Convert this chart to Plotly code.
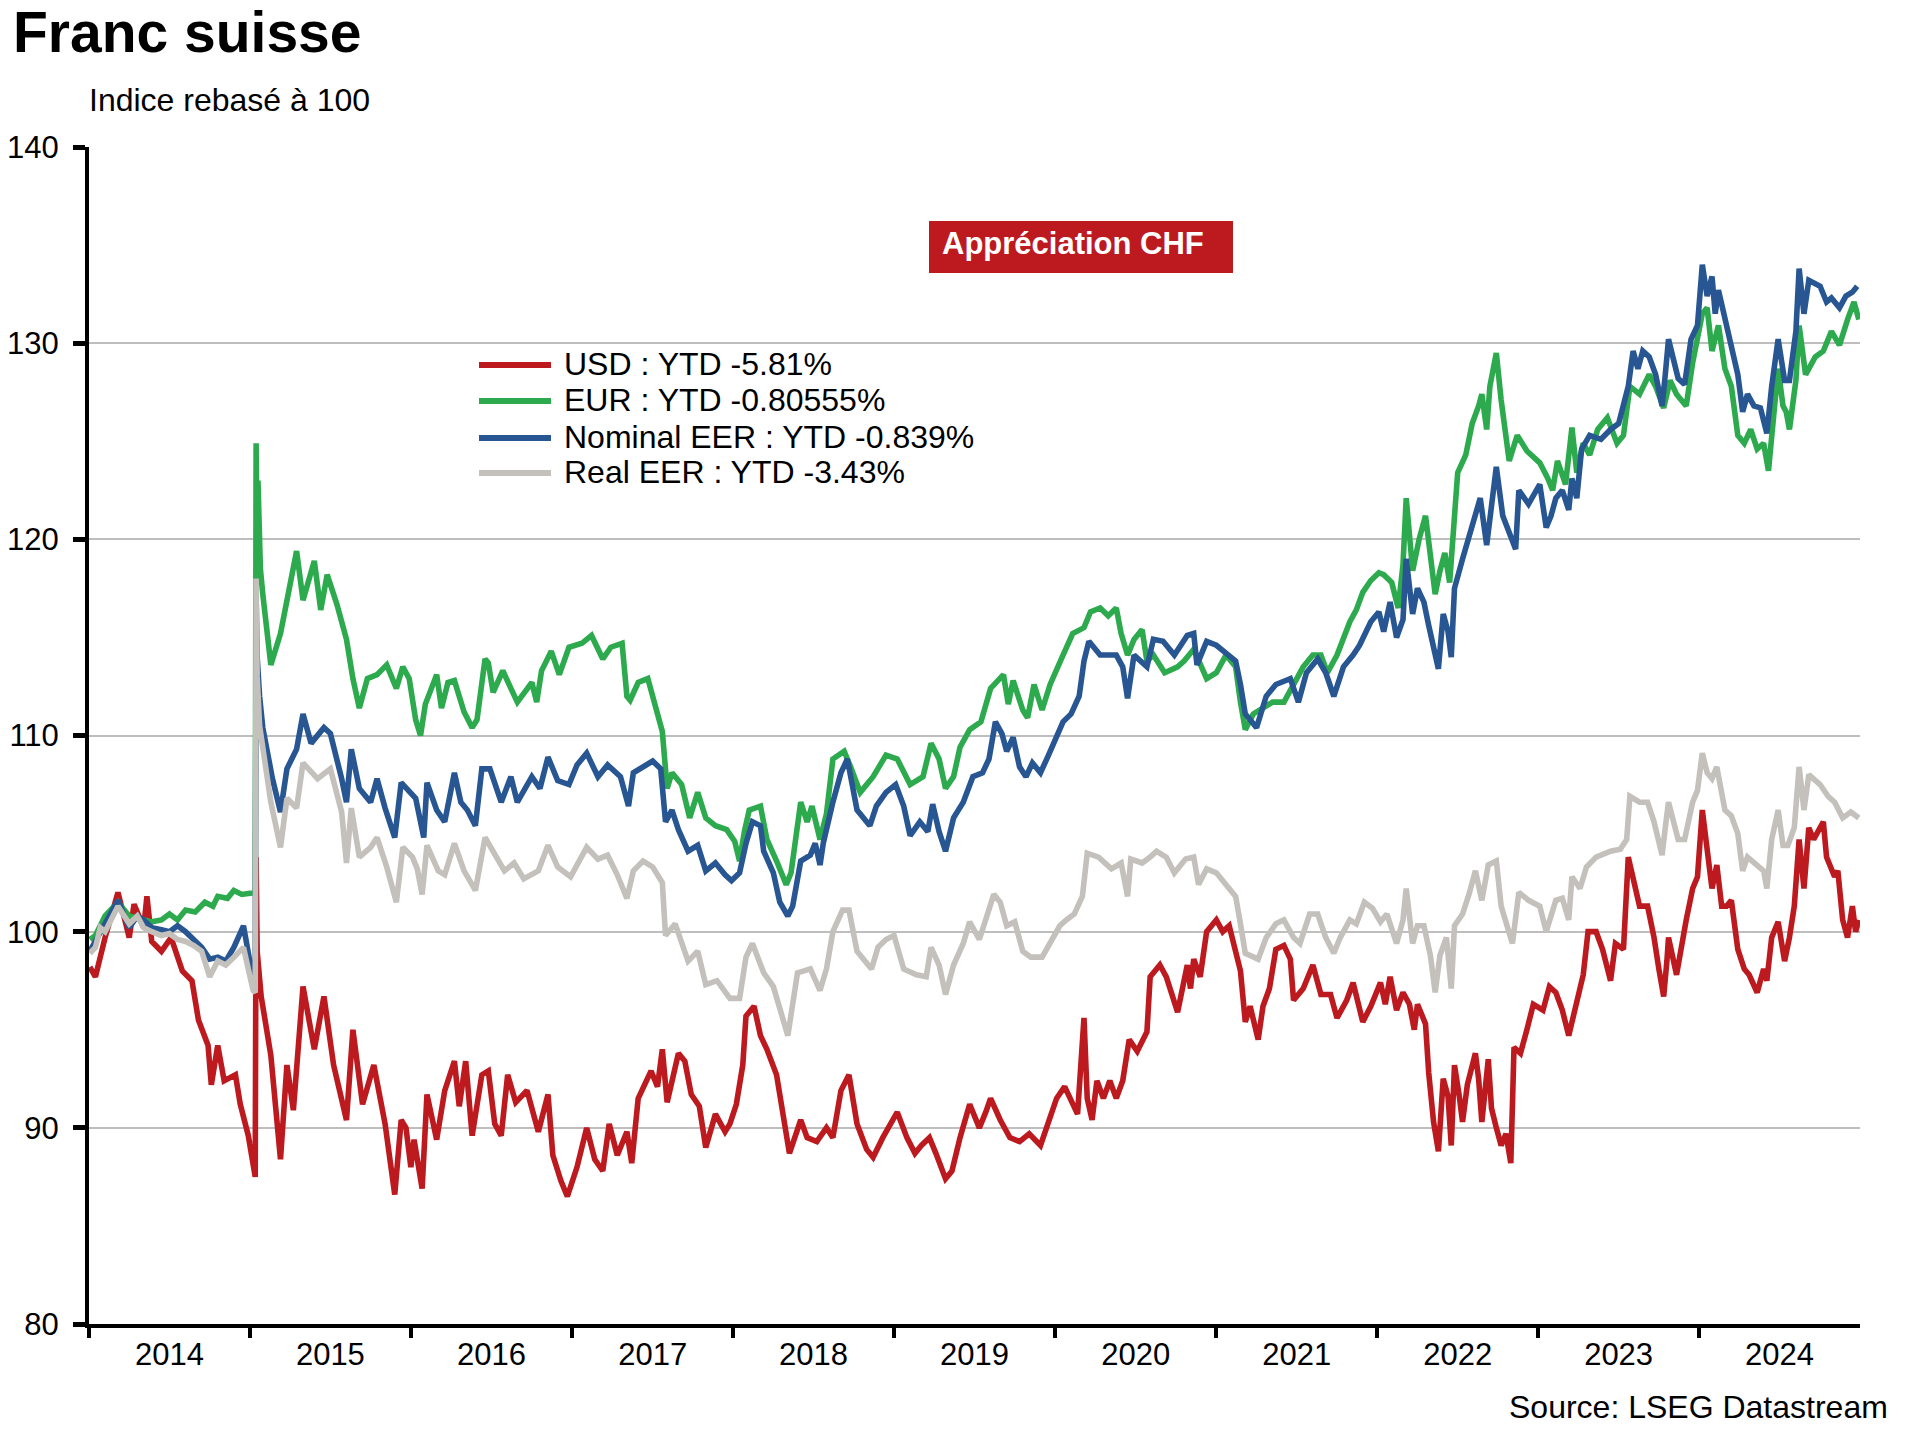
import datetime
import plotly.graph_objects as go

# ---------------- data (decimal years, index values) ----------------
usd_t = [2014.005, 2014.04, 2014.07, 2014.10, 2014.18, 2014.25, 2014.28, 2014.34, 2014.36, 2014.39,
         2014.45, 2014.51, 2014.58, 2014.64, 2014.68, 2014.74, 2014.76, 2014.80, 2014.84, 2014.91,
         2014.94, 2014.99, 2015.033, 2015.0385, 2015.045, 2015.07, 2015.13, 2015.19, 2015.23, 2015.27,
         2015.33, 2015.40, 2015.46, 2015.52, 2015.60, 2015.64, 2015.70, 2015.77, 2015.84, 2015.90,
         2015.94, 2015.97, 2016.00, 2016.02, 2016.07, 2016.10, 2016.16, 2016.21, 2016.27, 2016.30,
         2016.34, 2016.38, 2016.44, 2016.48, 2016.52, 2016.56, 2016.60, 2016.65, 2016.72, 2016.79,
         2016.85, 2016.88, 2016.93, 2016.97, 2017.03, 2017.09, 2017.14, 2017.19, 2017.23, 2017.28,
         2017.34, 2017.37, 2017.41, 2017.49, 2017.53, 2017.56, 2017.59, 2017.66, 2017.70, 2017.74,
         2017.79, 2017.83, 2017.89, 2017.95, 2017.98, 2018.02, 2018.06, 2018.08, 2018.13, 2018.17,
         2018.21, 2018.27, 2018.31, 2018.35, 2018.42, 2018.46, 2018.52, 2018.58, 2018.62, 2018.67,
         2018.72, 2018.77, 2018.83, 2018.87, 2018.93, 2019.02, 2019.08, 2019.13, 2019.17, 2019.22,
         2019.26, 2019.32, 2019.36, 2019.41, 2019.47, 2019.53, 2019.57, 2019.60, 2019.66, 2019.72,
         2019.78, 2019.84, 2019.91, 2019.96, 2020.01, 2020.06, 2020.11, 2020.14, 2020.18, 2020.20,
         2020.23, 2020.26, 2020.30, 2020.34, 2020.38, 2020.42, 2020.46, 2020.51, 2020.57, 2020.59,
         2020.65, 2020.69, 2020.76, 2020.82, 2020.84, 2020.86, 2020.90, 2020.94, 2021.00, 2021.04,
         2021.08, 2021.12, 2021.15, 2021.18, 2021.21, 2021.26, 2021.29, 2021.33, 2021.37, 2021.42,
         2021.46, 2021.48, 2021.54, 2021.60, 2021.65, 2021.71, 2021.75, 2021.81, 2021.85, 2021.91,
         2021.96, 2022.02, 2022.05, 2022.08, 2022.12, 2022.16, 2022.20, 2022.23, 2022.25, 2022.30,
         2022.32, 2022.35, 2022.38, 2022.41, 2022.44, 2022.46, 2022.48, 2022.51, 2022.53, 2022.56,
         2022.61, 2022.63, 2022.65, 2022.69, 2022.71, 2022.74, 2022.77, 2022.80, 2022.83, 2022.85,
         2022.89, 2022.93, 2022.97, 2023.03, 2023.07, 2023.11, 2023.15, 2023.19, 2023.24, 2023.28,
         2023.31, 2023.36, 2023.40, 2023.45, 2023.48, 2023.53, 2023.56, 2023.59, 2023.63, 2023.68,
         2023.72, 2023.75, 2023.78, 2023.80, 2023.81, 2023.86, 2023.89, 2023.92, 2023.96, 2023.99,
         2024.02, 2024.05, 2024.08, 2024.11, 2024.14, 2024.17, 2024.20, 2024.24, 2024.28, 2024.31,
         2024.36, 2024.40, 2024.42, 2024.45, 2024.49, 2024.53, 2024.56, 2024.59, 2024.62, 2024.65,
         2024.68, 2024.71, 2024.75, 2024.77, 2024.79, 2024.84, 2024.86, 2024.89, 2024.92, 2024.95,
         2024.97, 2024.99]
usd_v = [98.2, 97.7, 98.7, 99.7, 102.0, 99.7, 101.4, 100.2, 101.8, 99.5,
         99.0, 99.7, 98.0, 97.5, 95.5, 94.2, 92.2, 94.2, 92.4, 92.7,
         91.2, 89.6, 87.5, 103.8, 99.0, 96.7, 93.7, 88.4, 93.2, 90.9,
         97.2, 94.0, 96.7, 93.2, 90.4, 95.0, 91.2, 93.2, 90.2, 86.6,
         90.4, 90.0, 88.0, 89.4, 86.9, 91.7, 89.4, 91.9, 93.4, 91.1,
         93.4, 89.6, 92.7, 92.9, 90.2, 89.6, 92.7, 91.3, 91.9, 89.8,
         91.7, 88.6, 87.3, 86.5, 88.0, 90.0, 88.4, 87.8, 90.2, 88.6,
         89.8, 88.2, 91.5, 92.9, 92.1, 94.0, 91.3, 93.8, 93.4, 91.7,
         91.1, 89.0, 90.7, 89.8, 90.2, 91.2, 93.2, 95.7, 96.2, 94.7,
         94.0, 92.7, 90.8, 88.7, 90.4, 89.5, 89.3, 90.0, 89.5, 91.9,
         92.7, 90.2, 88.9, 88.5, 89.5, 90.8, 89.5, 88.7, 89.1, 89.5,
         88.7, 87.4, 87.8, 89.5, 91.2, 90.0, 90.8, 91.5, 90.4, 89.5,
         89.3, 89.7, 89.1, 90.4, 91.5, 92.1, 91.3, 90.7, 95.6, 91.5,
         90.4, 92.4, 91.5, 92.4, 91.5, 92.4, 94.5, 93.9, 94.9, 97.7,
         98.3, 97.7, 95.9, 98.3, 97.1, 98.6, 97.7, 100.0, 100.6, 100.0,
         100.3, 99.1, 98.0, 95.4, 96.2, 94.5, 96.2, 97.1, 99.1, 99.3,
         98.6, 96.5, 97.1, 98.3, 96.8, 96.8, 95.6, 96.5, 97.4, 95.4,
         96.2, 97.4, 96.3, 97.7, 96.0, 96.9, 96.3, 95.0, 96.3, 95.3,
         92.8, 90.3, 88.8, 92.5, 91.6, 89.1, 93.2, 91.6, 90.3, 92.2,
         93.8, 92.5, 90.3, 93.5, 91.0, 90.0, 89.1, 89.7, 88.2, 94.1,
         93.8, 95.0, 96.3, 96.0, 97.2, 96.9, 96.0, 94.7, 96.6, 97.8,
         100.0, 100.0, 99.1, 97.5, 99.4, 99.1, 103.8, 102.8, 101.3, 101.3,
         99.7, 98.1, 96.7, 98.5, 99.7, 97.8, 99.4, 100.6, 102.2, 102.8,
         106.2, 104.4, 102.2, 103.4, 101.3, 101.3, 101.6, 99.1, 98.1, 97.8,
         96.9, 98.1, 97.5, 99.7, 100.5, 98.5, 99.7, 101.3, 104.7, 102.2,
         105.3, 104.7, 105.3, 105.6, 103.8, 102.8, 103.1, 100.6, 99.7, 101.3,
         100.0, 100.6]

eur_t = [2014.005, 2014.04, 2014.10, 2014.18, 2014.25, 2014.34, 2014.39, 2014.45, 2014.50, 2014.55,
         2014.60, 2014.66, 2014.72, 2014.77, 2014.80, 2014.86, 2014.90, 2014.95, 2015.033, 2015.0385,
         2015.042, 2015.05, 2015.065, 2015.08, 2015.13, 2015.19, 2015.25, 2015.29, 2015.33, 2015.40,
         2015.44, 2015.48, 2015.54, 2015.60, 2015.64, 2015.68, 2015.73, 2015.79, 2015.85, 2015.91,
         2015.95, 2015.99, 2016.03, 2016.06, 2016.09, 2016.16, 2016.19, 2016.23, 2016.27, 2016.33,
         2016.38, 2016.41, 2016.46, 2016.48, 2016.51, 2016.57, 2016.62, 2016.66, 2016.75, 2016.78,
         2016.81, 2016.87, 2016.92, 2016.98, 2017.06, 2017.12, 2017.19, 2017.24, 2017.31, 2017.34,
         2017.36, 2017.41, 2017.47, 2017.51, 2017.56, 2017.59, 2017.62, 2017.68, 2017.73, 2017.78,
         2017.83, 2017.89, 2017.96, 2018.01, 2018.04, 2018.07, 2018.10, 2018.17, 2018.21, 2018.27,
         2018.33, 2018.36, 2018.42, 2018.46, 2018.49, 2018.54, 2018.58, 2018.62, 2018.69, 2018.73,
         2018.79, 2018.87, 2018.95, 2019.02, 2019.10, 2019.18, 2019.23, 2019.28, 2019.32, 2019.37,
         2019.41, 2019.47, 2019.54, 2019.60, 2019.64, 2019.68, 2019.71, 2019.74, 2019.80, 2019.83,
         2019.87, 2019.92, 2019.97, 2020.00, 2020.05, 2020.11, 2020.18, 2020.22, 2020.28, 2020.33,
         2020.38, 2020.41, 2020.45, 2020.49, 2020.54, 2020.57, 2020.61, 2020.68, 2020.76, 2020.80,
         2020.86, 2020.94, 2021.00, 2021.06, 2021.12, 2021.15, 2021.18, 2021.23, 2021.29, 2021.35,
         2021.42, 2021.48, 2021.54, 2021.60, 2021.65, 2021.69, 2021.75, 2021.83, 2021.87, 2021.91,
         2021.96, 2022.01, 2022.04, 2022.09, 2022.13, 2022.16, 2022.18, 2022.22, 2022.26, 2022.30,
         2022.33, 2022.36, 2022.39, 2022.42, 2022.45, 2022.47, 2022.50, 2022.55, 2022.59, 2022.63,
         2022.65, 2022.68, 2022.70, 2022.74, 2022.77, 2022.82, 2022.84, 2022.87, 2022.93, 2023.01,
         2023.06, 2023.09, 2023.12, 2023.17, 2023.21, 2023.24, 2023.28, 2023.32, 2023.37, 2023.43,
         2023.49, 2023.53, 2023.57, 2023.63, 2023.69, 2023.73, 2023.78, 2023.82, 2023.86, 2023.92,
         2023.96, 2023.99, 2024.02, 2024.05, 2024.08, 2024.12, 2024.16, 2024.20, 2024.24, 2024.28,
         2024.32, 2024.36, 2024.40, 2024.43, 2024.46, 2024.49, 2024.52, 2024.54, 2024.56, 2024.60,
         2024.62, 2024.66, 2024.72, 2024.77, 2024.82, 2024.87, 2024.92, 2024.96, 2024.99]
eur_v = [99.6, 99.8, 100.8, 101.5, 100.8, 100.6, 100.5, 100.6, 100.9, 100.6,
         101.1, 101.0, 101.5, 101.3, 101.8, 101.7, 102.1, 101.9, 102.0, 124.9,
         121.0, 123.0, 118.5, 117.2, 113.6, 115.2, 117.7, 119.4, 116.9, 118.9,
         116.4, 118.2, 116.7, 114.9, 112.9, 111.4, 112.9, 113.1, 113.6, 112.4,
         113.5, 112.9, 110.8, 110.0, 111.6, 113.1, 111.4, 112.7, 112.8, 111.2,
         110.4, 110.8, 113.9, 113.7, 112.2, 113.3, 112.4, 111.7, 112.7, 111.7,
         113.3, 114.3, 113.1, 114.5, 114.7, 115.1, 113.9, 114.5, 114.7, 112.0,
         111.8, 112.7, 112.9, 111.6, 110.2, 107.3, 108.1, 107.5, 105.8, 107.1,
         105.8, 105.4, 105.2, 104.6, 103.6, 105.1, 106.2, 106.4, 104.7, 103.6,
         102.4, 103.0, 106.6, 105.6, 106.4, 104.7, 106.0, 108.8, 109.2, 108.4,
         107.1, 107.9, 109.0, 108.8, 107.5, 107.9, 109.6, 108.8, 107.3, 107.9,
         109.4, 110.3, 110.7, 112.4, 112.8, 113.1, 111.6, 112.8, 111.3, 110.9,
         112.6, 111.3, 112.6, 113.2, 114.1, 115.2, 115.5, 116.3, 116.5, 116.1,
         116.5, 115.2, 114.1, 114.9, 115.4, 113.8, 114.1, 113.2, 113.5, 113.8,
         114.4, 112.9, 113.2, 114.1, 113.5, 111.7, 110.3, 111.1, 111.4, 111.7,
         111.7, 112.6, 113.5, 114.1, 114.1, 113.2, 114.1, 115.8, 116.4, 117.3,
         117.9, 118.3, 118.2, 117.8, 116.5, 118.7, 122.1, 118.4, 120.0, 121.2,
         119.3, 117.2, 118.4, 119.3, 117.8, 120.3, 123.4, 124.3, 125.9, 126.8,
         127.4, 125.6, 127.8, 129.5, 127.1, 124.0, 124.6, 125.3, 124.5, 123.9,
         123.1, 122.5, 124.0, 122.8, 125.7, 123.4, 124.9, 124.3, 125.6, 126.2,
         124.9, 125.3, 127.8, 127.4, 128.4, 127.8, 126.7, 128.1, 127.4, 126.8,
         129.0, 130.2, 131.5, 131.8, 129.6, 130.9, 128.7, 127.8, 125.3, 124.9,
         125.6, 124.6, 124.9, 123.5, 125.9, 128.7, 126.8, 126.5, 125.6, 128.1,
         130.9, 128.4, 129.3, 129.6, 130.6, 129.9, 131.2, 132.1, 131.2]

neer_t = [2014.005, 2014.04, 2014.10, 2014.18, 2014.25, 2014.30, 2014.34, 2014.39, 2014.45, 2014.50,
          2014.55, 2014.60, 2014.65, 2014.70, 2014.75, 2014.80, 2014.85, 2014.90, 2014.96, 2015.01,
          2015.033, 2015.0385, 2015.045, 2015.06, 2015.08, 2015.14, 2015.19, 2015.23, 2015.29, 2015.33,
          2015.38, 2015.46, 2015.50, 2015.57, 2015.60, 2015.63, 2015.68, 2015.75, 2015.79, 2015.84,
          2015.90, 2015.94, 2016.00, 2016.03, 2016.08, 2016.10, 2016.16, 2016.21, 2016.27, 2016.31,
          2016.35, 2016.40, 2016.44, 2016.49, 2016.56, 2016.62, 2016.66, 2016.75, 2016.80, 2016.85,
          2016.91, 2016.98, 2017.03, 2017.09, 2017.16, 2017.22, 2017.30, 2017.35, 2017.38, 2017.45,
          2017.50, 2017.55, 2017.58, 2017.62, 2017.66, 2017.72, 2017.78, 2017.83, 2017.89, 2017.95,
          2017.99, 2018.04, 2018.08, 2018.12, 2018.17, 2018.19, 2018.25, 2018.29, 2018.34, 2018.37,
          2018.42, 2018.48, 2018.51, 2018.54, 2018.56, 2018.62, 2018.67, 2018.71, 2018.77, 2018.85,
          2018.89, 2018.95, 2019.01, 2019.06, 2019.10, 2019.16, 2019.21, 2019.24, 2019.28, 2019.32,
          2019.37, 2019.43, 2019.49, 2019.55, 2019.59, 2019.63, 2019.67, 2019.70, 2019.74, 2019.78,
          2019.82, 2019.86, 2019.91, 2019.96, 2020.01, 2020.05, 2020.10, 2020.15, 2020.18, 2020.21,
          2020.28, 2020.33, 2020.38, 2020.42, 2020.45, 2020.49, 2020.57, 2020.61, 2020.67, 2020.74,
          2020.82, 2020.86, 2020.88, 2020.94, 2021.00, 2021.06, 2021.12, 2021.15, 2021.18, 2021.25,
          2021.31, 2021.37, 2021.46, 2021.51, 2021.56, 2021.63, 2021.68, 2021.73, 2021.79, 2021.85,
          2021.89, 2021.96, 2022.01, 2022.04, 2022.08, 2022.12, 2022.16, 2022.18, 2022.22, 2022.25,
          2022.29, 2022.32, 2022.36, 2022.38, 2022.41, 2022.44, 2022.46, 2022.48, 2022.53, 2022.59,
          2022.64, 2022.68, 2022.72, 2022.74, 2022.78, 2022.82, 2022.86, 2022.88, 2022.94, 2023.01,
          2023.05, 2023.08, 2023.11, 2023.15, 2023.19, 2023.21, 2023.24, 2023.27, 2023.32, 2023.39,
          2023.45, 2023.50, 2023.56, 2023.59, 2023.62, 2023.65, 2023.69, 2023.73, 2023.77, 2023.79,
          2023.81, 2023.87, 2023.91, 2023.95, 2023.99, 2024.02, 2024.05, 2024.08, 2024.10, 2024.12,
          2024.16, 2024.20, 2024.24, 2024.27, 2024.30, 2024.34, 2024.38, 2024.42, 2024.45, 2024.49,
          2024.53, 2024.56, 2024.60, 2024.62, 2024.65, 2024.68, 2024.75, 2024.79, 2024.82, 2024.87,
          2024.91, 2024.95, 2024.98]
neer_v = [99.0, 99.5, 100.4, 101.6, 100.2, 100.8, 100.6, 100.2, 100.1, 100.0,
          100.3, 100.0, 99.6, 99.2, 98.6, 98.7, 98.5, 99.2, 100.3, 98.0,
          97.8, 117.0, 114.0, 112.0, 110.4, 107.8, 106.1, 108.3, 109.3, 111.1,
          109.6, 110.4, 110.1, 107.8, 106.6, 109.3, 107.3, 106.6, 107.8, 106.3,
          104.8, 107.6, 107.1, 106.8, 104.8, 107.6, 106.2, 105.6, 108.1, 106.6,
          106.2, 105.4, 108.3, 108.3, 106.6, 107.9, 106.6, 107.9, 107.3, 108.9,
          107.7, 107.5, 108.5, 109.1, 107.9, 108.5, 107.9, 106.4, 108.1, 108.5,
          108.7, 108.3, 105.6, 106.2, 105.2, 104.1, 104.4, 103.1, 103.5, 102.9,
          102.6, 103.0, 104.5, 105.6, 105.4, 104.1, 103.0, 101.5, 100.8, 101.3,
          103.6, 103.9, 104.5, 103.4, 104.5, 106.6, 108.1, 108.8, 106.2, 105.4,
          106.4, 107.1, 107.5, 106.4, 104.9, 105.6, 105.1, 106.5, 105.1, 104.1,
          105.8, 106.6, 107.9, 108.1, 108.8, 110.7, 110.1, 109.2, 109.9, 108.4,
          107.9, 108.6, 108.1, 109.0, 110.0, 110.7, 111.1, 112.0, 113.8, 114.8,
          114.1, 114.1, 114.1, 113.5, 111.9, 114.1, 113.5, 114.9, 114.8, 114.1,
          115.1, 115.2, 113.6, 114.8, 114.6, 114.2, 113.8, 112.6, 111.1, 110.4,
          112.0, 112.6, 112.9, 111.7, 113.2, 113.9, 113.2, 112.0, 113.5, 114.1,
          114.6, 115.8, 116.3, 115.3, 116.8, 115.0, 115.9, 119.0, 116.2, 117.5,
          116.8, 115.6, 114.0, 113.4, 116.2, 115.3, 114.0, 117.5, 119.0, 120.6,
          122.1, 119.7, 122.8, 123.7, 121.2, 120.3, 119.5, 122.5, 121.8, 122.8,
          120.6, 121.2, 122.1, 122.5, 121.5, 123.1, 122.1, 124.6, 125.3, 125.1,
          125.6, 125.9, 127.8, 129.6, 128.7, 129.6, 129.3, 128.4, 126.8, 128.4,
          130.2, 128.2, 127.9, 130.2, 130.9, 134.0, 132.4, 133.4, 131.5, 132.7,
          131.2, 129.6, 128.4, 126.5, 127.4, 126.8, 126.7, 125.4, 127.8, 130.2,
          128.1, 128.1, 130.6, 133.8, 131.5, 133.2, 132.9, 132.1, 132.3, 131.8,
          132.4, 132.6, 132.9]

reer_t = [2014.005, 2014.04, 2014.07, 2014.10, 2014.18, 2014.25, 2014.30, 2014.34, 2014.39, 2014.45,
          2014.50, 2014.55, 2014.60, 2014.65, 2014.70, 2014.75, 2014.80, 2014.85, 2014.90, 2014.96,
          2015.02, 2015.033, 2015.0385, 2015.045, 2015.06, 2015.08, 2015.13, 2015.19, 2015.23, 2015.29,
          2015.33, 2015.42, 2015.50, 2015.57, 2015.60, 2015.63, 2015.68, 2015.75, 2015.79, 2015.85,
          2015.91, 2015.95, 2016.01, 2016.04, 2016.07, 2016.10, 2016.17, 2016.21, 2016.27, 2016.33,
          2016.40, 2016.46, 2016.52, 2016.58, 2016.64, 2016.70, 2016.79, 2016.85, 2016.91, 2016.99,
          2017.09, 2017.16, 2017.22, 2017.28, 2017.34, 2017.38, 2017.44, 2017.50, 2017.56, 2017.58,
          2017.64, 2017.72, 2017.78, 2017.83, 2017.90, 2017.98, 2018.04, 2018.08, 2018.12, 2018.19,
          2018.25, 2018.30, 2018.34, 2018.40, 2018.48, 2018.54, 2018.58, 2018.62, 2018.68, 2018.72,
          2018.77, 2018.86, 2018.90, 2018.95, 2019.00, 2019.06, 2019.14, 2019.20, 2019.23, 2019.28,
          2019.32, 2019.37, 2019.43, 2019.47, 2019.53, 2019.62, 2019.66, 2019.70, 2019.75, 2019.80,
          2019.85, 2019.92, 2019.98, 2020.03, 2020.07, 2020.12, 2020.17, 2020.20, 2020.27, 2020.35,
          2020.41, 2020.45, 2020.47, 2020.54, 2020.59, 2020.63, 2020.69, 2020.74, 2020.81, 2020.86,
          2020.89, 2020.94, 2021.00, 2021.06, 2021.12, 2021.15, 2021.18, 2021.26, 2021.31, 2021.37,
          2021.42, 2021.48, 2021.52, 2021.58, 2021.63, 2021.68, 2021.73, 2021.77, 2021.83, 2021.87,
          2021.92, 2021.97, 2022.02, 2022.06, 2022.12, 2022.16, 2022.18, 2022.22, 2022.25, 2022.29,
          2022.33, 2022.36, 2022.39, 2022.43, 2022.46, 2022.48, 2022.53, 2022.57, 2022.61, 2022.65,
          2022.69, 2022.74, 2022.77, 2022.84, 2022.88, 2022.94, 2023.01, 2023.05, 2023.11, 2023.15,
          2023.19, 2023.21, 2023.26, 2023.30, 2023.36, 2023.45, 2023.51, 2023.55, 2023.57, 2023.63,
          2023.68, 2023.72, 2023.77, 2023.79, 2023.81, 2023.87, 2023.91, 2023.96, 2023.99, 2024.02,
          2024.05, 2024.08, 2024.11, 2024.16, 2024.20, 2024.24, 2024.27, 2024.30, 2024.35, 2024.40,
          2024.42, 2024.45, 2024.49, 2024.52, 2024.55, 2024.59, 2024.62, 2024.65, 2024.68, 2024.75,
          2024.80, 2024.84, 2024.89, 2024.94, 2024.99]
reer_v = [98.9, 99.2, 100.2, 100.0, 101.3, 100.4, 100.8, 100.2, 100.0, 99.8,
          99.9, 99.6, 99.5, 99.3, 99.0, 97.7, 98.5, 98.3, 98.7, 99.2,
          97.0, 96.9, 118.0, 113.0, 110.5, 109.3, 106.6, 104.3, 106.8, 106.3,
          108.6, 107.8, 108.3, 106.1, 103.5, 106.3, 103.8, 104.3, 104.8, 103.3,
          101.5, 104.3, 103.8, 103.2, 101.9, 104.4, 103.1, 102.9, 104.5, 103.1,
          102.1, 104.8, 103.9, 103.1, 103.5, 102.7, 103.1, 104.4, 103.3, 102.8,
          104.3, 103.7, 103.9, 102.9, 101.7, 103.1, 103.6, 103.3, 102.5, 99.8,
          100.4, 98.5, 99.0, 97.3, 97.5, 96.6, 96.6, 98.7, 99.4, 97.9,
          97.2, 95.7, 94.7, 97.9, 98.1, 97.0, 98.1, 100.0, 101.1, 101.1,
          99.0, 98.1, 99.2, 99.6, 99.8, 98.1, 97.8, 97.7, 99.2, 98.3,
          96.8, 98.3, 99.4, 100.5, 99.6, 101.9, 101.5, 100.3, 100.5, 99.0,
          98.7, 98.7, 99.6, 100.3, 100.6, 100.9, 101.8, 104.0, 103.8, 103.2,
          103.5, 101.8, 103.7, 103.5, 103.8, 104.1, 103.8, 103.0, 103.7, 103.8,
          102.4, 103.2, 103.0, 102.4, 101.8, 100.4, 98.9, 98.6, 99.7, 100.4,
          100.6, 99.7, 99.4, 100.9, 100.9, 99.7, 98.9, 99.7, 100.6, 100.4,
          101.5, 101.2, 100.5, 100.9, 99.4, 100.6, 102.2, 99.4, 100.3, 100.3,
          98.8, 96.9, 98.8, 99.7, 97.1, 100.3, 100.9, 101.9, 103.1, 101.6,
          103.4, 103.6, 101.3, 99.4, 102.0, 101.6, 101.3, 100.0, 101.6, 101.7,
          100.6, 102.8, 102.2, 103.3, 103.8, 104.1, 104.2, 104.7, 106.9, 106.6,
          106.6, 105.6, 103.9, 105.3, 106.6, 104.7, 104.7, 106.6, 107.2, 109.1,
          108.1, 107.8, 108.4, 106.2, 105.9, 105.0, 103.1, 103.8, 103.4, 103.1,
          102.2, 104.7, 106.2, 104.4, 104.4, 105.3, 108.4, 106.2, 108.0, 107.5,
          106.9, 106.6, 105.8, 106.1, 105.8]

series_names = ["USD : YTD -5.81%", "EUR : YTD -0.80555%", "Nominal EER : YTD -0.839%", "Real EER : YTD -3.43%"]
series_colors = ["#BD1A1F", "#2DAA4D", "#285692", "#C4C1BC"]
year_range = ["2014-01-01", "2024-12-31"]
y_ticks = [80, 90, 100, 110, 120, 130, 140]

FONT = "Liberation Sans, Arial, sans-serif"


def to_date(t):
    yr = int(t)
    start = datetime.datetime(yr, 1, 1)
    end = datetime.datetime(yr + 1, 1, 1)
    return start + (end - start) * (t - yr)


# ---------------- figure ----------------
W, H = 1913, 1438
L, R, T, B = 89, 53, 147, 114
pw, ph = W - L - R, H - T - B


def px(xp):
    return (xp - L) / pw


def py(yp):
    return (H - B - yp) / ph


fig = go.Figure()
for (t, v), name, col in zip([(usd_t, usd_v), (eur_t, eur_v), (neer_t, neer_v), (reer_t, reer_v)],
                             series_names, series_colors):
    fig.add_trace(go.Scatter(x=[to_date(a) for a in t], y=v, mode="lines", name=name,
                             line=dict(color=col, width=5.6), showlegend=False))

fig.update_layout(
    width=W, height=H,
    margin=dict(l=L, r=R, t=T, b=B, autoexpand=False),
    plot_bgcolor="white", paper_bgcolor="white",
    font=dict(family=FONT, size=32, color="black"),
)
fig.update_xaxes(
    type="date", range=year_range, dtick="M12", tick0="2014-01-01",
    ticklabelmode="period", tickformat="%Y",
    showgrid=False, showline=True, linecolor="black", linewidth=4,
    ticks="outside", ticklen=10, tickwidth=4, tickcolor="black",
    tickfont=dict(family=FONT, size=31, color="black"),
    ticklabelstandoff=-10,
)
fig.update_yaxes(
    range=[80, 140], tickvals=y_ticks,
    showgrid=True, gridcolor="#BEBEBE", gridwidth=1.6,
    showline=True, linecolor="black", linewidth=4,
    ticks="outside", ticklen=12, tickwidth=5, tickcolor="black",
    tickfont=dict(family=FONT, size=31, color="black"),
    ticklabelstandoff=8, zeroline=False,
)

# title, subtitle, source
fig.add_annotation(text="<b>Franc suisse</b>", xref="paper", yref="paper", x=px(11), y=py(32),
                   xanchor="left", yanchor="middle", showarrow=False,
                   font=dict(family=FONT, size=57, color="black"))
fig.add_annotation(text="Indice rebasé à 100", xref="paper", yref="paper", x=px(87), y=py(100),
                   xanchor="left", yanchor="middle", showarrow=False,
                   font=dict(family=FONT, size=32, color="black"))
fig.add_annotation(text="Source: LSEG Datastream", xref="paper", yref="paper", x=px(1890), y=py(1407),
                   xanchor="right", yanchor="middle", showarrow=False,
                   font=dict(family=FONT, size=32, color="black"))

# "Appréciation CHF" red box
fig.add_shape(type="rect", xref="paper", yref="paper", x0=px(929), x1=px(1233), y0=py(273), y1=py(221),
              fillcolor="#BD1A1F", line=dict(width=0), layer="above")
fig.add_annotation(text="<b>Appréciation CHF</b>", xref="paper", yref="paper", x=px(940), y=py(243),
                   xanchor="left", yanchor="middle", showarrow=False,
                   font=dict(family=FONT, size=31, color="white"))

# legend (manual)
legend_rows = [365, 401, 438, 473]
for name, col, yrow in zip(series_names, series_colors, legend_rows):
    fig.add_shape(type="line", xref="paper", yref="paper", x0=px(479), x1=px(551), y0=py(yrow), y1=py(yrow),
                  line=dict(color=col, width=6))
    fig.add_annotation(text=name, xref="paper", yref="paper", x=px(562), y=py(yrow - 1),
                       xanchor="left", yanchor="middle", showarrow=False,
                       font=dict(family=FONT, size=32, color="black"))

fig.write_html("out.html", config={"displayModeBar": False},
               post_script="document.body.style.margin='0px'; document.body.style.overflow='hidden';")
